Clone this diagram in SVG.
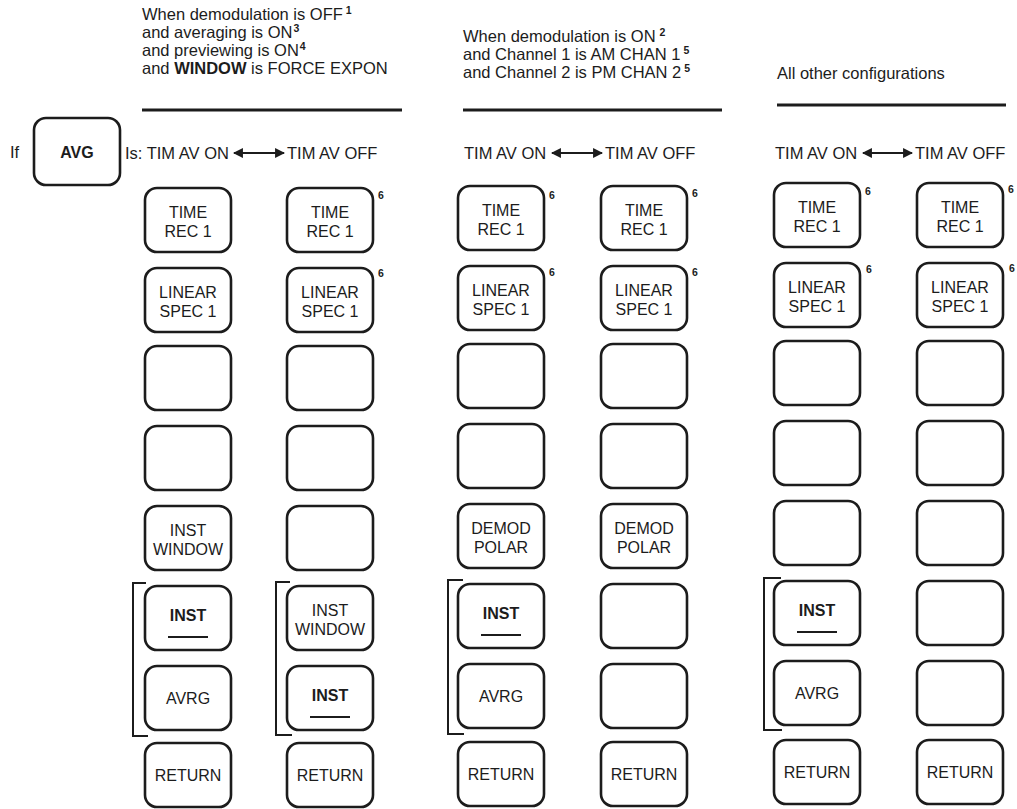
<svg xmlns="http://www.w3.org/2000/svg" width="1017" height="809" viewBox="0 0 1017 809">
<style>
.btn{fill:#fff;stroke:#1c1c1c;stroke-width:2.6}
.t{font-family:"Liberation Sans",Arial,sans-serif;fill:#1c1c1c}
.lbl{font-size:16px;text-anchor:middle}
.hdr{font-size:16.5px}
.b{font-weight:bold}
.sup{font-size:10.5px;font-weight:bold}
.rule{stroke:#1c1c1c;stroke-width:3}
.ul{stroke:#1c1c1c;stroke-width:2}
.brk{fill:none;stroke:#1c1c1c;stroke-width:2}
.arr{stroke:#1c1c1c;stroke-width:1.8;marker-start:url(#ah);marker-end:url(#ah)}
</style>
<defs>
<marker id="ah" viewBox="0 0 10 10" refX="9" refY="5" markerWidth="5.5" markerHeight="5.5" orient="auto-start-reverse"><path d="M0,0 L10,5 L0,10 z" fill="#1c1c1c"/></marker>
<rect id="box" class="btn" x="0" y="0" width="86" height="64" rx="12"/>
</defs>
<rect width="1017" height="809" fill="#fff"/>

<g id="headers" class="t hdr">
<text x="142" y="20">When demodulation is OFF<tspan class="sup" dx="3" dy="-6">1</tspan></text>
<text x="142" y="38">and averaging is ON<tspan class="sup" dx="1" dy="-6">3</tspan></text>
<text x="142" y="56">and previewing is ON<tspan class="sup" dx="1" dy="-6">4</tspan></text>
<text x="142" y="74">and <tspan class="b">WINDOW</tspan> is FORCE EXPON</text>
<text x="463" y="42">When demodulation is ON<tspan class="sup" dx="4" dy="-6">2</tspan></text>
<text x="463" y="60">and Channel 1 is AM CHAN 1<tspan class="sup" dx="3" dy="-6">5</tspan></text>
<text x="463" y="78">and Channel 2 is PM CHAN 2<tspan class="sup" dx="3" dy="-6">5</tspan></text>
<text x="777" y="79">All other configurations</text>
</g>
<g id="rules">
<line class="rule" x1="142" y1="110" x2="402" y2="110"/>
<line class="rule" x1="463" y1="110" x2="722" y2="110"/>
<line class="rule" x1="777" y1="105" x2="1006" y2="105"/>
</g>

<g id="avg-key">
<text class="t hdr" x="10" y="158">If</text>
<rect class="btn" x="34" y="118" width="86" height="67" rx="12"/>
<text class="t lbl b" x="77" y="158">AVG</text>
</g>

<g id="mode-labels" class="t hdr">
<text x="125" y="159">Is: TIM AV ON</text>
<text x="287" y="159">TIM AV OFF</text>
<text x="464" y="159">TIM AV ON</text>
<text x="605" y="159">TIM AV OFF</text>
<text x="775" y="159">TIM AV ON</text>
<text x="915" y="159">TIM AV OFF</text>
</g>
<g id="connectors">
<line class="arr" x1="234" y1="153" x2="284" y2="153"/>
<line class="arr" x1="552" y1="153" x2="602" y2="153"/>
<line class="arr" x1="863" y1="153" x2="912" y2="153"/>
</g>

<g id="brackets">
<path class="brk" d="M146,583 H133 V736 H148"/>
<path class="brk" d="M290,582 H276 V735 H292"/>
<path class="brk" d="M463,580 H448 V734 H464"/>
<path class="brk" d="M781,578 H764 V730 H782"/>
</g>

<!-- Column 1 -->
<g id="c1r1" transform="translate(145,188)"><use href="#box"/><text class="t lbl" x="43" y="30">TIME</text><text class="t lbl" x="43" y="49">REC 1</text></g>
<g id="c1r2" transform="translate(145,268)"><use href="#box"/><text class="t lbl" x="43" y="30">LINEAR</text><text class="t lbl" x="43" y="49">SPEC 1</text></g>
<g id="c1r3" transform="translate(145,346)"><use href="#box"/></g>
<g id="c1r4" transform="translate(145,426)"><use href="#box"/></g>
<g id="c1r5" transform="translate(145,506)"><use href="#box"/><text class="t lbl" x="43" y="30">INST</text><text class="t lbl" x="43" y="49">WINDOW</text></g>
<g id="c1r6" transform="translate(145,586)"><use href="#box"/><text class="t lbl b" x="43" y="35">INST</text><line class="ul" x1="23" y1="51" x2="63" y2="51"/></g>
<g id="c1r7" transform="translate(145,666)"><use href="#box"/><text class="t lbl" x="43" y="38">AVRG</text></g>
<g id="c1r8" transform="translate(145,743)"><use href="#box"/><text class="t lbl" x="43" y="38">RETURN</text></g>

<!-- Column 2 -->
<g id="c2r1" transform="translate(287,188)"><use href="#box"/><text class="t lbl" x="43" y="30">TIME</text><text class="t lbl" x="43" y="49">REC 1</text><text class="t sup" x="91" y="11">6</text></g>
<g id="c2r2" transform="translate(287,268)"><use href="#box"/><text class="t lbl" x="43" y="30">LINEAR</text><text class="t lbl" x="43" y="49">SPEC 1</text><text class="t sup" x="91" y="9">6</text></g>
<g id="c2r3" transform="translate(287,346)"><use href="#box"/></g>
<g id="c2r4" transform="translate(287,426)"><use href="#box"/></g>
<g id="c2r5" transform="translate(287,506)"><use href="#box"/></g>
<g id="c2r6" transform="translate(287,586)"><use href="#box"/><text class="t lbl" x="43" y="30">INST</text><text class="t lbl" x="43" y="49">WINDOW</text></g>
<g id="c2r7" transform="translate(287,666)"><use href="#box"/><text class="t lbl b" x="43" y="35">INST</text><line class="ul" x1="23" y1="51" x2="63" y2="51"/></g>
<g id="c2r8" transform="translate(287,743)"><use href="#box"/><text class="t lbl" x="43" y="38">RETURN</text></g>

<!-- Column 3 -->
<g id="c3r1" transform="translate(458,186)"><use href="#box"/><text class="t lbl" x="43" y="30">TIME</text><text class="t lbl" x="43" y="49">REC 1</text><text class="t sup" x="91" y="13">6</text></g>
<g id="c3r2" transform="translate(458,266)"><use href="#box"/><text class="t lbl" x="43" y="30">LINEAR</text><text class="t lbl" x="43" y="49">SPEC 1</text><text class="t sup" x="91" y="10">6</text></g>
<g id="c3r3" transform="translate(458,344)"><use href="#box"/></g>
<g id="c3r4" transform="translate(458,424)"><use href="#box"/></g>
<g id="c3r5" transform="translate(458,504)"><use href="#box"/><text class="t lbl" x="43" y="30">DEMOD</text><text class="t lbl" x="43" y="49">POLAR</text></g>
<g id="c3r6" transform="translate(458,584)"><use href="#box"/><text class="t lbl b" x="43" y="35">INST</text><line class="ul" x1="23" y1="51" x2="63" y2="51"/></g>
<g id="c3r7" transform="translate(458,664)"><use href="#box"/><text class="t lbl" x="43" y="38">AVRG</text></g>
<g id="c3r8" transform="translate(458,742)"><use href="#box"/><text class="t lbl" x="43" y="38">RETURN</text></g>

<!-- Column 4 -->
<g id="c4r1" transform="translate(601,186)"><use href="#box"/><text class="t lbl" x="43" y="30">TIME</text><text class="t lbl" x="43" y="49">REC 1</text><text class="t sup" x="91" y="11">6</text></g>
<g id="c4r2" transform="translate(601,266)"><use href="#box"/><text class="t lbl" x="43" y="30">LINEAR</text><text class="t lbl" x="43" y="49">SPEC 1</text><text class="t sup" x="91" y="10">6</text></g>
<g id="c4r3" transform="translate(601,344)"><use href="#box"/></g>
<g id="c4r4" transform="translate(601,424)"><use href="#box"/></g>
<g id="c4r5" transform="translate(601,504)"><use href="#box"/><text class="t lbl" x="43" y="30">DEMOD</text><text class="t lbl" x="43" y="49">POLAR</text></g>
<g id="c4r6" transform="translate(601,584)"><use href="#box"/></g>
<g id="c4r7" transform="translate(601,664)"><use href="#box"/></g>
<g id="c4r8" transform="translate(601,742)"><use href="#box"/><text class="t lbl" x="43" y="38">RETURN</text></g>

<!-- Column 5 -->
<g id="c5r1" transform="translate(774,183)"><use href="#box"/><text class="t lbl" x="43" y="30">TIME</text><text class="t lbl" x="43" y="49">REC 1</text><text class="t sup" x="91" y="12">6</text></g>
<g id="c5r2" transform="translate(774,263)"><use href="#box"/><text class="t lbl" x="43" y="30">LINEAR</text><text class="t lbl" x="43" y="49">SPEC 1</text><text class="t sup" x="92" y="10">6</text></g>
<g id="c5r3" transform="translate(774,341)"><use href="#box"/></g>
<g id="c5r4" transform="translate(774,421)"><use href="#box"/></g>
<g id="c5r5" transform="translate(774,501)"><use href="#box"/></g>
<g id="c5r6" transform="translate(774,581)"><use href="#box"/><text class="t lbl b" x="43" y="35">INST</text><line class="ul" x1="23" y1="51" x2="63" y2="51"/></g>
<g id="c5r7" transform="translate(774,661)"><use href="#box"/><text class="t lbl" x="43" y="38">AVRG</text></g>
<g id="c5r8" transform="translate(774,740)"><use href="#box"/><text class="t lbl" x="43" y="38">RETURN</text></g>

<!-- Column 6 -->
<g id="c6r1" transform="translate(917,183)"><use href="#box"/><text class="t lbl" x="43" y="30">TIME</text><text class="t lbl" x="43" y="49">REC 1</text><text class="t sup" x="91" y="10">6</text></g>
<g id="c6r2" transform="translate(917,263)"><use href="#box"/><text class="t lbl" x="43" y="30">LINEAR</text><text class="t lbl" x="43" y="49">SPEC 1</text><text class="t sup" x="92" y="9">6</text></g>
<g id="c6r3" transform="translate(917,341)"><use href="#box"/></g>
<g id="c6r4" transform="translate(917,421)"><use href="#box"/></g>
<g id="c6r5" transform="translate(917,501)"><use href="#box"/></g>
<g id="c6r6" transform="translate(917,581)"><use href="#box"/></g>
<g id="c6r7" transform="translate(917,661)"><use href="#box"/></g>
<g id="c6r8" transform="translate(917,740)"><use href="#box"/><text class="t lbl" x="43" y="38">RETURN</text></g>
</svg>
